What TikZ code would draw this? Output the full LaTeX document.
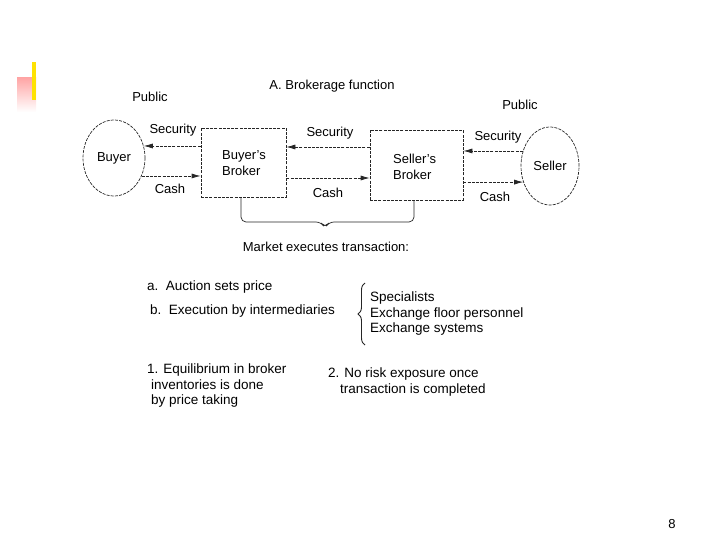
\documentclass[tikz,border=0pt]{standalone}
\usepackage{fontspec}
\setmainfont{Liberation Sans}
\usetikzlibrary{shapes.geometric,arrows.meta,decorations.pathreplacing}
\begin{document}
\begin{tikzpicture}[x=1pt,y=-1pt,
  every node/.style={font=\fontsize{13}{16}\selectfont, inner sep=0pt},
  big/.style={font=\fontsize{13.5}{15.5}\selectfont},
  dline/.style={draw=black!85, dash pattern=on 3pt off 1.2pt, line width=0.7pt},
  arr/.style={dline, -{Latex[length=9pt,width=5pt]}},
  party/.style={ellipse, dline},
  brokerbox/.style={dline, rectangle},
  lbl/.style={anchor=center},
  txt/.style={anchor=west, align=left}]
\useasboundingbox (0,0) rectangle (720,540);
% slide decoration
\shade[top color=red!35!white, bottom color=white] (17,78) rectangle (36,112);
\fill[yellow!85!orange] (32,62) rectangle (36,100);
% titles
\node[lbl] (title) at (332,86) {A. Brokerage function};
\node[lbl] (publ) at (150,97) {Public};
\node[lbl] (pubr) at (520,105) {Public};
% parties and brokers
\node[party, minimum width=62, minimum height=76] (buyer) at (114,158) {Buyer};
\node[brokerbox, minimum width=85, minimum height=69] (bb) at (243.5,162.5) {};
\node[txt] (bbt) at (222,163) {Buyer's\\Broker};
\node[brokerbox, minimum width=93, minimum height=70] (sb) at (416.5,165) {};
\node[txt] (sbt) at (393,167) {Seller's\\Broker};
\node[party, minimum width=58, minimum height=78] (seller) at (550,166) {Seller};
% flows left
\draw[arr] (buyer.22 -| bb.west) -- (buyer.22);
\draw[arr] (buyer.-33) -- (buyer.-33 -| bb.west);
\node[lbl] (sec1) at (173,130) {Security};
\node[lbl] (cash1) at (170,189) {Cash};
% flows middle
\coordinate (m1) at (0,147);
\coordinate (m2) at (0,178);
\draw[arr] (sb.west |- m1) -- (bb.east |- m1);
\draw[arr] (bb.east |- m2) -- (sb.west |- m2);
\node[lbl] (sec2) at (330,133) {Security};
\node[lbl] (cash2) at (328,193) {Cash};
% flows right
\draw[arr] (seller.151) -- (seller.151 -| sb.east);
\draw[arr] (seller.-149 -| sb.east) -- (seller.-149);
\node[lbl] (sec3) at (498,137) {Security};
\node[lbl] (cash3) at (495,197) {Cash};
% market bracket
\coordinate (n1) at (321,222);
\coordinate (notch) at (325,228);
\coordinate (n2) at (329,222);
\draw[black!85, line width=0.7pt, rounded corners=5pt]
  ([xshift=-2.5pt]bb.south) |- (n1) -- (notch) -- (n2) -| ([xshift=-2.5pt]sb.south);
\node[lbl] (mkt) at (326,247) {Market executes transaction:};
% list
\node[txt, big] (a) at (147,287) {a.\ \ Auction sets price};
\node[txt, big] (b) at (150,311) {b.\ \ Execution by intermediaries};
\coordinate (br1) at (365,345);
\coordinate (br2) at (365,283);
\draw[black!85, line width=0.9pt, decorate, decoration={brace, amplitude=7pt}] (br1) -- (br2);
\node[txt, big] (who) at (370,314) {Specialists\\Exchange floor personnel\\Exchange systems};
\node[txt, big] (p1) at (147,386) {1. Equilibrium in broker\\\hspace*{4pt}inventories is done\\\hspace*{4pt}by price taking};
\node[txt, big] (p2) at (328,382) {2. No risk exposure once\\\hspace*{12pt}transaction is completed};
% page number
\node[lbl] (page) at (672,524) {8};
\end{tikzpicture}
\end{document}
